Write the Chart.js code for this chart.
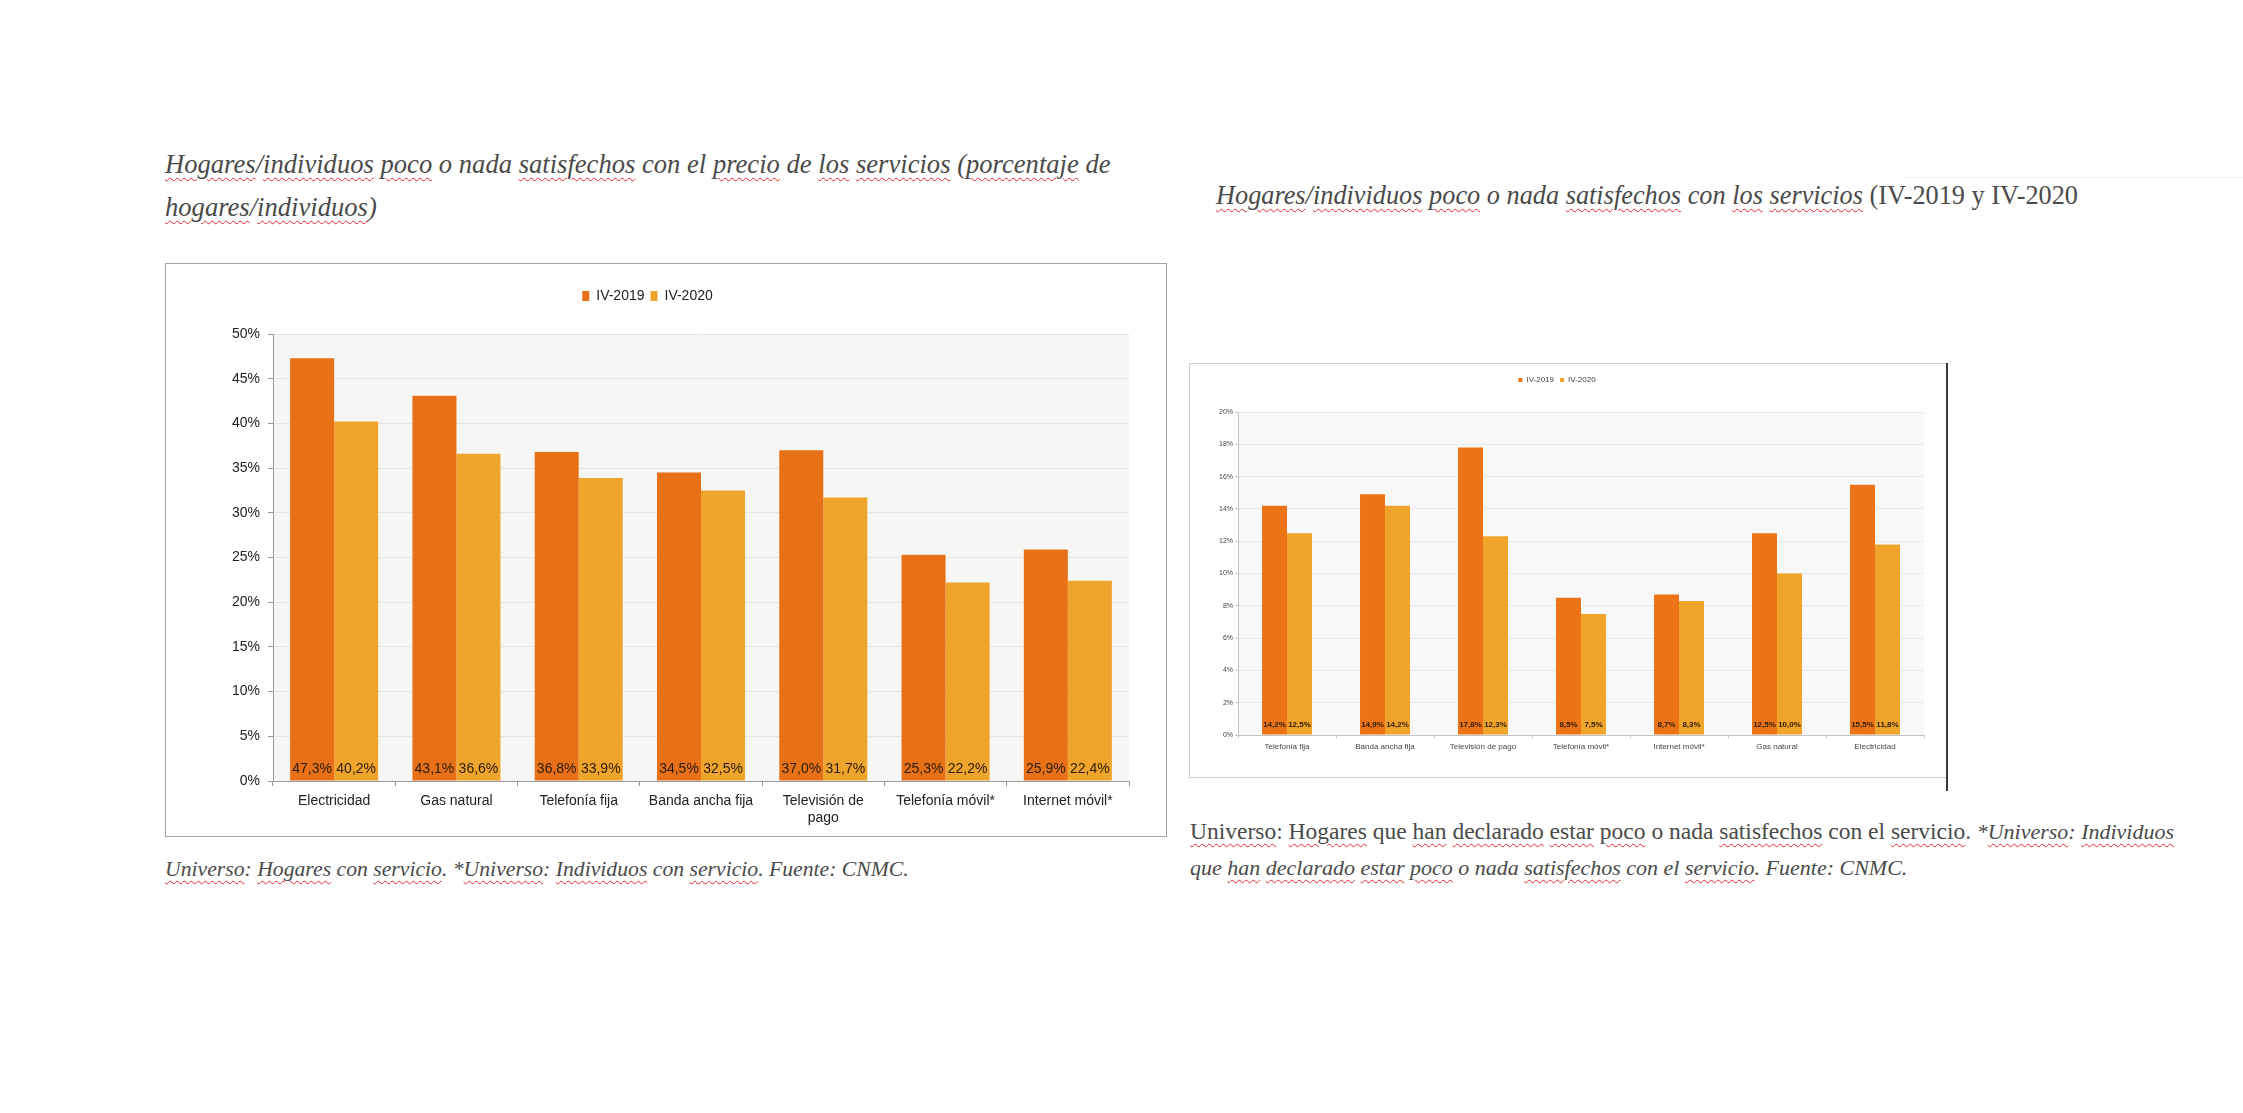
<!DOCTYPE html>
<html lang="es">
<head>
<meta charset="utf-8">
<script src="https://cdn.jsdelivr.net/npm/chart.js@4.4.1/dist/chart.umd.min.js"></script>
<style>
  html, body { margin: 0; padding: 0; background: #fff; }
  body { width: 2243px; height: 1113px; position: relative; overflow: hidden; }
  .txt { position: absolute; font-family: "Liberation Serif", serif; color: #4a4a4a; white-space: nowrap; }
  .it { font-style: italic; }
  .sq { text-decoration: underline wavy #e0292b; text-decoration-thickness: 1px; text-underline-offset: 4px; }
  .box { position: absolute; background: #fff; }
</style>
</head>
<body>

<div class="txt it" style="left:165px; top:143px; font-size:26.6px; line-height:43px;">
  <span class="sq">Hogares</span>/<span class="sq">individuos</span> <span class="sq">poco</span> o nada <span class="sq">satisfechos</span> con el <span class="sq">precio</span> de <span class="sq">los</span> <span class="sq">servicios</span> (<span class="sq">porcentaje</span> de<br>
  <span class="sq">hogares</span>/<span class="sq">individuos</span>)
</div>

<div class="txt" style="left:1216px; top:174px; font-size:26.3px; line-height:43px;">
  <span class="it"><span class="sq">Hogares</span>/<span class="sq">individuos</span> <span class="sq">poco</span> o nada <span class="sq">satisfechos</span> con <span class="sq">los</span> <span class="sq">servicios</span></span> (IV-2019 y IV-2020
</div>
<div style="position:absolute; left:1902px; top:177px; width:341px; height:1px; background:#efefef;"></div>

<div class="box" style="left:165px; top:263px; width:1000px; height:572px; border:1px solid #a3a3a3;">
  <canvas id="chartPrecio" width="1000" height="572"></canvas>
</div>

<div class="box" style="left:1189px; top:363px; width:756px; height:413px; border:1px solid #cfcfcf;">
  <canvas id="chartServicio" width="756" height="413" style="filter: blur(0.45px);"></canvas>
</div>
<div style="position:absolute; left:1946px; top:363px; width:2px; height:428px; background:#3a3a3a;"></div>

<div class="txt it" style="left:165px; top:851px; font-size:21.7px; line-height:36px;">
  <span class="sq">Universo</span>: <span class="sq">Hogares</span> con <span class="sq">servicio</span>. *<span class="sq">Universo</span>: <span class="sq">Individuos</span> con <span class="sq">servicio</span>. Fuente: CNMC.
</div>

<div class="txt" style="left:1190px; top:813px; font-size:22px; line-height:36px;">
  <span style="font-size:23.5px;"><span class="sq">Universo</span>: <span class="sq">Hogares</span> que <span class="sq">han</span> <span class="sq">declarado</span> <span class="sq">estar</span> <span class="sq">poco</span> o nada <span class="sq">satisfechos</span> con el <span class="sq">servicio</span>.</span> <span class="it">*<span class="sq">Universo</span>: <span class="sq">Individuos</span></span><br>
  <span class="it">que <span class="sq">han</span> <span class="sq">declarado</span> <span class="sq">estar</span> <span class="sq">poco</span> o nada <span class="sq">satisfechos</span> con el <span class="sq">servicio</span>. Fuente: CNMC.</span>
</div>

<script>
// --- datos: precio de los servicios ---
const categoriasPrecio = ['Electricidad', 'Gas natural', 'Telefonía fija', 'Banda ancha fija', ['Televisión de', 'pago'], 'Telefonía móvil*', 'Internet móvil*'];
const precio2019 = [47.3, 43.1, 36.8, 34.5, 37.0, 25.3, 25.9];
const precio2020 = [40.2, 36.6, 33.9, 32.5, 31.7, 22.2, 22.4];
const ticksPrecio = [0, 5, 10, 15, 20, 25, 30, 35, 40, 45, 50];

// --- datos: satisfaccion con los servicios ---
const categoriasServicio = ['Telefonía fija', 'Banda ancha fija', 'Televisión de pago', 'Telefonía móvil*', 'Internet móvil*', 'Gas natural', 'Electricidad'];
const servicio2019 = [14.2, 14.9, 17.8, 8.5, 8.7, 12.5, 15.5];
const servicio2020 = [12.5, 14.2, 12.3, 7.5, 8.3, 10.0, 11.8];
const ticksServicio = [0, 2, 4, 6, 8, 10, 12, 14, 16, 18, 20];

const serieLabels = ['IV-2019', 'IV-2020'];

const fmt = v => v.toFixed(1).replace('.', ',') + '%';

// fondo gris claro del area de trazado
const fondoPlot = {
  id: 'fondoPlot',
  beforeDraw(chart, args, opts) {
    const { ctx, chartArea: a } = chart;
    ctx.save();
    ctx.fillStyle = opts.color;
    ctx.fillRect(a.left, a.top, a.right - a.left, a.bottom - a.top);
    ctx.restore();
  }
};

// espacio extra entre la leyenda y el grafico
const espacioLeyenda = {
  id: 'espacioLeyenda',
  beforeLayout(chart, args, opts) {
    const lg = chart.legend;
    if (lg && !lg._espacio) {
      const fit = lg.fit;
      const extra = opts.extra || 0;
      lg.fit = function () { fit.call(this); this.height += extra; };
      lg._espacio = true;
    }
  }
};

// etiquetas de valor al pie de cada barra
const etiquetasValor = {
  id: 'etiquetasValor',
  afterDatasetsDraw(chart, args, opts) {
    const { ctx } = chart;
    const y0 = chart.scales.y.getPixelForValue(0);
    ctx.save();
    ctx.font = opts.font;
    ctx.fillStyle = opts.color;
    ctx.textAlign = 'center';
    ctx.textBaseline = 'middle';
    chart.data.datasets.forEach((ds, i) => {
      chart.getDatasetMeta(i).data.forEach((bar, j) => {
        ctx.fillText(fmt(ds.data[j]), bar.x, y0 - opts.offset);
      });
    });
    ctx.restore();
  }
};

function opciones(cfg) {
  return {
    responsive: false,
    devicePixelRatio: 1,
    animation: false,
    layout: { padding: cfg.padding },
    plugins: {
      legend: {
        position: 'top',
        labels: {
          boxWidth: cfg.boxW, boxHeight: cfg.boxH, padding: cfg.legendPad,
          color: cfg.textColor,
          font: { family: 'Liberation Sans, Arial', size: cfg.legendSize }
        }
      },
      tooltip: { enabled: false },
      fondoPlot: { color: cfg.bg },
      espacioLeyenda: { extra: cfg.legendExtra },
      etiquetasValor: { font: cfg.valueFont, color: '#2a1a0a', offset: cfg.valueOffset }
    },
    scales: {
      x: {
        afterFit: s => { s.height = cfg.xHeight; },
        grid: { offset: true, drawOnChartArea: false, tickLength: cfg.tick, tickColor: cfg.axisColor },
        border: { color: cfg.axisColor },
        ticks: {
          color: cfg.textColor, padding: cfg.xPad, maxRotation: 0, autoSkip: false,
          font: { family: 'Liberation Sans, Arial', size: cfg.xSize, lineHeight: 1.25 }
        }
      },
      y: {
        min: 0, max: cfg.max,
        afterFit: s => { s.width = cfg.yWidth; },
        afterBuildTicks: s => { s.ticks = cfg.ticks.map(v => ({ value: v })); },
        grid: { color: cfg.gridColor, tickLength: cfg.tick, tickColor: cfg.axisColor },
        border: { color: cfg.axisColor },
        ticks: {
          color: cfg.textColor, padding: cfg.yPad,
          font: { family: 'Liberation Sans, Arial', size: cfg.ySize },
          callback: v => v + '%'
        }
      }
    }
  };
}

function dataset(label, data, color, catPct) {
  return { label, data, backgroundColor: color, borderWidth: 0, barPercentage: 1, categoryPercentage: catPct };
}

new Chart(document.getElementById('chartPrecio'), {
  type: 'bar',
  data: {
    labels: categoriasPrecio,
    datasets: [
      dataset(serieLabels[0], precio2019, '#e87118', 0.72),
      dataset(serieLabels[1], precio2020, '#efa42c', 0.72)
    ]
  },
  options: opciones({
    padding: { top: 19, right: 37, bottom: 0, left: 0 },
    boxW: 7, boxH: 10, legendPad: 6, legendSize: 14, legendExtra: 21,
    textColor: '#222', bg: '#f6f6f5', gridColor: '#e4e4e2', axisColor: '#999',
    valueFont: '14px "Liberation Sans", Arial', valueOffset: 12,
    tick: 5, xPad: 6, xSize: 14, yPad: 8, ySize: 14, xHeight: 55,
    max: 50, ticks: ticksPrecio, yWidth: 107
  }),
  plugins: [fondoPlot, espacioLeyenda, etiquetasValor]
});

new Chart(document.getElementById('chartServicio'), {
  type: 'bar',
  data: {
    labels: categoriasServicio,
    datasets: [
      dataset(serieLabels[0], servicio2019, '#ec7416', 0.51),
      dataset(serieLabels[1], servicio2020, '#f0a52a', 0.51)
    ]
  },
  options: opciones({
    padding: { top: 6, right: 22, bottom: 0, left: 0 },
    boxW: 4, boxH: 4, legendPad: 6, legendSize: 8, legendExtra: 18,
    textColor: '#444', bg: '#f8f8f8', gridColor: '#e9e9e9', axisColor: '#c4c4c4',
    valueFont: 'bold 8px "Liberation Sans", Arial', valueOffset: 10,
    tick: 3, xPad: 4, xSize: 8, yPad: 2, ySize: 7, xHeight: 42,
    max: 20, ticks: ticksServicio, yWidth: 48
  }),
  plugins: [fondoPlot, espacioLeyenda, etiquetasValor]
});
</script>
</body>
</html>
